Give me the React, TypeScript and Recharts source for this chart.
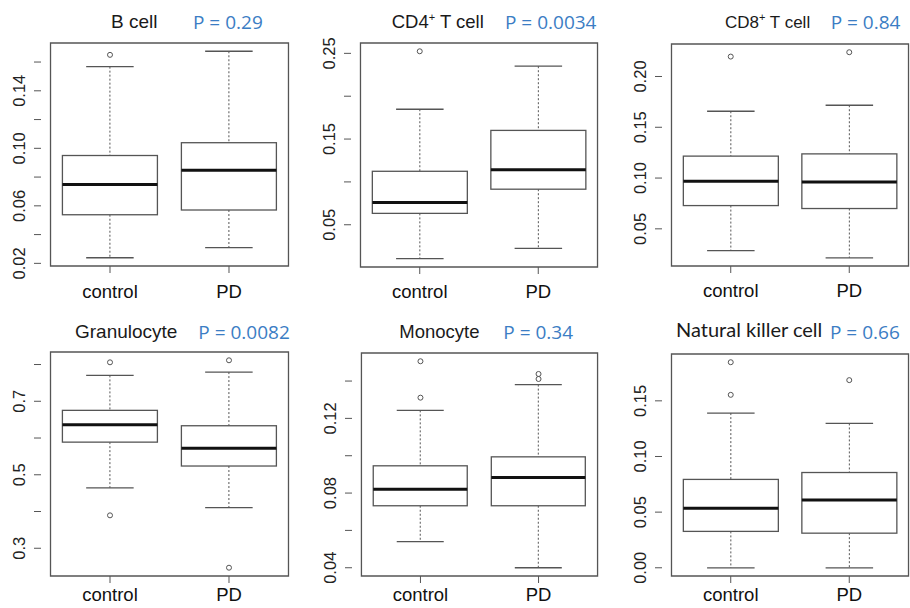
import React from "react";
import { ComposedChart, Bar, Scatter, XAxis, YAxis, ReferenceArea } from "recharts";

const categories = ["control", "PD"];

// [lower whisker, Q1, median, Q3, upper whisker]
const bCellControl = [0.0239, 0.0538, 0.0748, 0.095, 0.1568];
const bCellPD = [0.0309, 0.0571, 0.0848, 0.1039, 0.1675];
const bCellOutliers = [[0.165], []];
const bCellTicks = [0.02, 0.04, 0.06, 0.08, 0.1, 0.12, 0.14, 0.16];
const bCellTickLabels = ["0.02", "", "0.06", "", "0.10", "", "0.14", ""];

const cd4Control = [0.0104, 0.0633, 0.0759, 0.1124, 0.1848];
const cd4PD = [0.0225, 0.0915, 0.1143, 0.1601, 0.235];
const cd4Outliers = [[0.2524], []];
const cd4Ticks = [0.05, 0.1, 0.15, 0.2, 0.25];
const cd4TickLabels = ["0.05", "", "0.15", "", "0.25"];

const cd8Control = [0.0286, 0.0729, 0.0969, 0.1216, 0.1658];
const cd8PD = [0.0215, 0.07, 0.096, 0.1238, 0.1717];
const cd8Outliers = [[0.2196], [0.2239]];
const cd8Ticks = [0.05, 0.1, 0.15, 0.2];
const cd8TickLabels = ["0.05", "0.10", "0.15", "0.20"];

const granControl = [0.4644, 0.5888, 0.636, 0.6753, 0.7704];
const granPD = [0.4107, 0.5238, 0.5723, 0.6334, 0.7795];
const granOutliers = [[0.806, 0.3896], [0.8115, 0.2471]];
const granTicks = [0.3, 0.4, 0.5, 0.6, 0.7, 0.8];
const granTickLabels = ["0.3", "", "0.5", "", "0.7", ""];

const monoControl = [0.054, 0.0732, 0.082, 0.0946, 0.1243];
const monoPD = [0.04, 0.0732, 0.0883, 0.0994, 0.1381];
const monoOutliers = [[0.1506, 0.1311], [0.1438, 0.1411]];
const monoTicks = [0.04, 0.06, 0.08, 0.1, 0.12, 0.14];
const monoTickLabels = ["0.04", "", "0.08", "", "0.12", ""];

const nkControl = [0, 0.0327, 0.0536, 0.0794, 0.139];
const nkPD = [0, 0.0311, 0.061, 0.0856, 0.1297];
const nkOutliers = [[0.1847, 0.1554], [0.1686]];
const nkTicks = [0, 0.05, 0.1, 0.15];
const nkTickLabels = ["0.00", "0.05", "0.10", "0.15"];

const GRAY = "#555";
const AXIS_W = 40;
const TOP_M = 5;

// R-style y range: data range stretched by 4% each side
function rDomain(stats: number[][], outliers: number[][]) {
  const all = [...stats.flat(), ...outliers.flat()];
  const lo = Math.min(...all);
  const hi = Math.max(...all);
  const ext = (hi - lo) * 0.04;
  return [lo - ext, hi + ext];
}

const BoxShape = (props: any) => {
  const { x, y, width, height, payload } = props;
  const [lo, hi] = payload.whisker;
  const top = Math.min(y, y + height);
  const h = Math.abs(height);
  const py = (v: number) => top + ((hi - v) / (hi - lo)) * h;
  const cx = x + width / 2;
  const cap = width / 4;
  return (
    <g>
      <line x1={cx} x2={cx} y1={py(hi)} y2={py(payload.q3)} stroke={GRAY} strokeWidth={1} strokeDasharray="2 2" />
      <line x1={cx} x2={cx} y1={py(payload.q1)} y2={py(lo)} stroke={GRAY} strokeWidth={1} strokeDasharray="2 2" />
      <line x1={cx - cap} x2={cx + cap} y1={py(hi)} y2={py(hi)} stroke={GRAY} strokeWidth={1.3} />
      <line x1={cx - cap} x2={cx + cap} y1={py(lo)} y2={py(lo)} stroke={GRAY} strokeWidth={1.3} />
      <rect x={x} y={py(payload.q3)} width={width} height={py(payload.q1) - py(payload.q3)} fill="#fff" stroke={GRAY} strokeWidth={1.3} />
      <line x1={x} x2={x + width} y1={py(payload.median)} y2={py(payload.median)} stroke="#111" strokeWidth={3} />
    </g>
  );
};

const outlierShape = (key: string) => (p: any) => {
  if (p.payload == null || p.payload[key] == null || p.cx == null || p.cy == null) return <g />;
  return <circle cx={p.cx} cy={p.cy} r={2.5} fill="none" stroke={GRAY} strokeWidth={1} />;
};

interface PanelProps {
  stats: number[][];
  outliers: number[][];
  ticks: number[];
  tickLabels: string[];
  left: number;
  top: number;
  right: number;
  bottom: number;
  labelDy: number;
}

function BoxPanel({ stats, outliers, ticks, tickLabels, left, top, right, bottom, labelDy }: PanelProps) {
  const plotW = right - left;
  const plotH = bottom - top;
  const width = Math.round(plotW) + AXIS_W + 5;
  const height = Math.round(plotH) + TOP_M + 45;
  const pad = (0.08 / 2.16) * plotW;
  const domain = rDomain(stats, outliers);
  const rows = categories.map((cat, i) => ({
    cat,
    whisker: [stats[i][0], stats[i][4]],
    q1: stats[i][1],
    median: stats[i][2],
    q3: stats[i][3],
    o1: outliers[i][0] ?? null,
    o2: outliers[i][1] ?? null,
  }));

  const YTick = (p: any) => {
    const idx = ticks.findIndex((t) => Math.abs(t - p.payload.value) < 1e-9);
    const label = idx >= 0 ? tickLabels[idx] : "";
    const bx = AXIS_W - 16;
    return (
      <text x={bx} y={p.y} transform={`rotate(-90, ${bx}, ${p.y})`} textAnchor="middle" fontSize={16.5}
        fontFamily="'Liberation Sans', Arial, sans-serif" fill="#222">
        {label}
      </text>
    );
  };

  const XTick = (p: any) => (
    <text x={p.x} y={TOP_M + Math.round(plotH) + labelDy} textAnchor="middle" fontSize={18.5}
      fontFamily="'Liberation Sans', Arial, sans-serif" fill="#111">
      {p.payload.value}
    </text>
  );

  return (
    <div style={{ position: "absolute", left: left - AXIS_W, top: top - TOP_M }}>
      <ComposedChart width={width} height={height} data={rows} barCategoryGap="10%"
        margin={{ top: TOP_M, right: 5, bottom: 0, left: 0 }}>
        <XAxis dataKey="cat" type="category" padding={{ left: pad, right: pad }} axisLine={false}
          tickLine={{ stroke: GRAY }} tickSize={7} tick={XTick} interval={0} height={45} />
        <YAxis type="number" domain={domain} ticks={ticks} interval={0} axisLine={false}
          tickLine={{ stroke: GRAY }} tickSize={7} tick={YTick} width={AXIS_W} />
        <ReferenceArea y1={domain[0]} y2={domain[1]} fill="none" fillOpacity={0} stroke={GRAY} strokeWidth={1.3} />
        <Bar dataKey="whisker" shape={BoxShape} isAnimationActive={false} />
        <Scatter dataKey="o1" shape={outlierShape("o1")} isAnimationActive={false} />
        <Scatter dataKey="o2" shape={outlierShape("o2")} isAnimationActive={false} />
      </ComposedChart>
    </div>
  );
}

const TITLE_FONT = "'Liberation Sans', Arial, sans-serif";
const P_FONT = "'Open Sans', sans-serif";
const P_COLOR = "#3b7dc4";

export default function App() {
  return (
    <div style={{ position: "fixed", left: 0, top: 0, width: 910, height: 608, background: "#fff", overflow: "hidden" }}>
      <BoxPanel stats={[bCellControl, bCellPD]} outliers={bCellOutliers} ticks={bCellTicks} tickLabels={bCellTickLabels}
        left={41} top={43} right={298} bottom={266} labelDy={31.7} />
      <BoxPanel stats={[cd4Control, cd4PD]} outliers={cd4Outliers} ticks={cd4Ticks} tickLabels={cd4TickLabels}
        left={351} top={42.7} right={607} bottom={266.7} labelDy={31.3} />
      <BoxPanel stats={[cd8Control, cd8PD]} outliers={cd8Outliers} ticks={cd8Ticks} tickLabels={cd8TickLabels}
        left={662.3} top={44.3} right={918.5} bottom={266.7} labelDy={31.3} />
      <BoxPanel stats={[granControl, granPD]} outliers={granOutliers} ticks={granTicks} tickLabels={granTickLabels}
        left={41} top={352.3} right={297.7} bottom={576.3} labelDy={25.4} />
      <BoxPanel stats={[monoControl, monoPD]} outliers={monoOutliers} ticks={monoTicks} tickLabels={monoTickLabels}
        left={352.3} top={353.3} right={607} bottom={576.3} labelDy={25.4} />
      <BoxPanel stats={[nkControl, nkPD]} outliers={nkOutliers} ticks={nkTicks} tickLabels={nkTickLabels}
        left={662.3} top={354.3} right={918.5} bottom={576.3} labelDy={25.4} />

      <svg width={910} height={608} style={{ position: "absolute", left: 0, top: 0, pointerEvents: "none" }}>
        <g fontFamily={TITLE_FONT} fill="#1a1a1a">
          <text x={111} y={28.3} fontSize={19}>B cell</text>
          <text x={391.7} y={28.3} fontSize={18.5}>
            CD4<tspan fontSize={11} dy={-7}>+</tspan><tspan dy={7}> T cell</tspan>
          </text>
          <text x={725} y={28.3} fontSize={17}>
            CD8<tspan fontSize={11} dy={-7}>+</tspan><tspan dy={7}> T cell</tspan>
          </text>
          <text x={75} y={338} fontSize={19}>Granulocyte</text>
          <text x={399.3} y={337.7} fontSize={18.5}>Monocyte</text>
          <text x={676} y={337.3} fontFamily="Lato, sans-serif" fontSize={20}>Natural killer cell</text>
        </g>
        <g fontFamily={P_FONT} fontSize={19} fill={P_COLOR}>
          <text x={193} y={29}>P = 0.29</text>
          <text x={505} y={29}>P = 0.0034</text>
          <text x={830.7} y={29}>P = 0.84</text>
          <text x={198.3} y={338.5}>P = 0.0082</text>
          <text x={503.3} y={338.5}>P = 0.34</text>
          <text x={830} y={339}>P = 0.66</text>
        </g>
      </svg>
    </div>
  );
}
